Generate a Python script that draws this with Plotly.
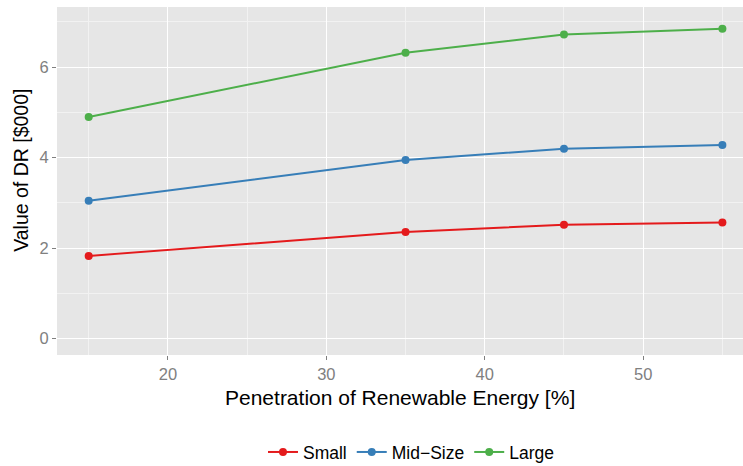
import plotly.graph_objects as go

penetration = [15, 35, 45, 55]
small = [1.83, 2.36, 2.52, 2.57]
mid_size = [3.05, 3.95, 4.20, 4.28]
large = [4.90, 6.32, 6.72, 6.85]

series = [("Small", small, "#E41A1C"), ("Mid\u2212Size", mid_size, "#377EB8"), ("Large", large, "#4DAF4A")]

fig = go.Figure()
for name, vals, col in series:
    fig.add_trace(go.Scatter(x=penetration, y=vals, name=name, mode="lines+markers",
                             line=dict(color=col, width=2), marker=dict(color=col, size=8)))

axis_common = dict(showgrid=True, gridcolor="white", gridwidth=1.3, zeroline=False,
                   ticks="outside", ticklen=4, tickcolor="#7F7F7F", tickwidth=1.2,
                   tickfont=dict(family="Liberation Sans, Arial", size=16.5, color="#808080"),
                   showline=False, automargin=False)

fig.update_layout(
    width=743, height=466,
    margin=dict(l=57, r=0, t=7, b=111, autoexpand=False),
    plot_bgcolor="#E6E6E6", paper_bgcolor="white",
    font=dict(family="Liberation Sans, Arial", color="black"),
    xaxis=dict(range=[13, 56.3], tick0=0, dtick=10,
               minor=dict(dtick=5, tick0=0, showgrid=True, gridcolor="#F2F2F2", gridwidth=0.7, ticks=""),
               **axis_common),
    yaxis=dict(range=[-0.36, 7.33], tick0=0, dtick=2,
               minor=dict(dtick=1, tick0=0, showgrid=True, gridcolor="#F2F2F2", gridwidth=0.7, ticks=""),
               **axis_common),
    legend=dict(orientation="h", x=0.516, xanchor="center", y=-0.279, yanchor="middle",
                font=dict(size=17.5), itemwidth=30, tracegroupgap=0, bgcolor="rgba(0,0,0,0)"),
    showlegend=True,
    annotations=[
        dict(text="Penetration of Renewable Energy [%]", xref="paper", yref="paper",
             x=0.5, y=-0.1207, xanchor="center", yanchor="middle", showarrow=False,
             font=dict(size=21, color="black")),
        dict(text="Value of DR [$000]", xref="paper", yref="paper", textangle=-90,
             x=-0.0525, y=0.532, xanchor="center", yanchor="middle", showarrow=False,
             font=dict(size=19.5, color="black")),
    ],
)

fig.write_html("out.html", config={"displayModeBar": False},
               post_script="document.body.style.margin='0px';")
